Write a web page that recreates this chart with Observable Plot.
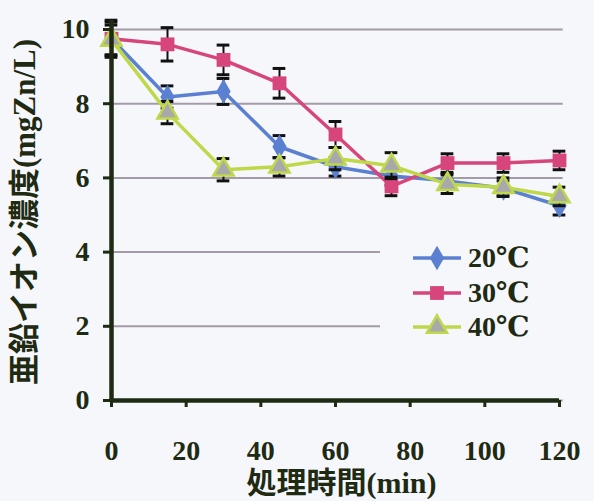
<!DOCTYPE html>
<html>
<head>
<meta charset="utf-8">
<script src="https://cdn.jsdelivr.net/npm/d3@7"></script>
<script src="https://cdn.jsdelivr.net/npm/@observablehq/plot@0.6"></script>
<style>
  html, body { margin: 0; padding: 0; background: #f5f7fb; }
  #wrap { position: relative; width: 594px; height: 501px; }
  #legend { position: absolute; left: 380px; top: 238px; width: 183px; height: 106px; background: #f5f7fb; }
  .item { position: absolute; left: 0; height: 34px; width: 183px; }
  .item svg { position: absolute; left: 31px; top: 0; }
  .item span { position: absolute; left: 88px; top: 0; line-height: 34px; font: bold 28px "Liberation Serif", "DejaVu Serif", serif; color: #1f2a12; }
</style>
</head>
<body>
<div id="wrap"></div>
<script>
const times = [0, 15, 30, 45, 60, 75, 90, 105, 120];
const seriesNames = ["20℃", "30℃", "40℃"];
const v20 = [9.75, 8.18, 8.33, 6.84, 6.3, 6.05, 5.92, 5.72, 5.25];
const v30 = [9.75, 9.6, 9.18, 8.55, 7.17, 5.77, 6.4, 6.4, 6.47];
const v40 = [9.72, 7.76, 6.22, 6.3, 6.52, 6.33, 5.83, 5.75, 5.5];
const e20 = [0.45, 0.3, 0.35, 0.3, 0.25, 0.25, 0.2, 0.2, 0.25];
const e30 = [0.5, 0.45, 0.4, 0.4, 0.35, 0.25, 0.25, 0.25, 0.25];
const e40 = [0.4, 0.3, 0.3, 0.25, 0.3, 0.35, 0.25, 0.25, 0.25];
const yTicks = [0, 2, 4, 6, 8, 10];
const xTicks = [0, 20, 40, 60, 80, 100, 120];
const yLabel = "亜鉛イオン濃度(mgZn/L)";
const xLabel = "処理時間(min)";

const styles = [
  {color: "#5b80d2", symbol: "diamond", fill: "#5b80d2", stroke: "#5b80d2", r: 7.5},
  {color: "#d6467c", symbol: "square", fill: "#d6467c", stroke: "#d6467c", r: 7.8},
  {color: "#bfd84a", symbol: "triangle", fill: "#a9a9ad", stroke: "#bfd84a", r: 7.5}
];
const values = [v20, v30, v40];
const errors = [e20, e30, e40];
const series = seriesNames.map((name, i) => times.map((t, j) => ({t, v: values[i][j], e: errors[i][j], name})));

const serif = `"Liberation Serif", "DejaVu Serif", serif`;
const jp = `"Liberation Serif", "Noto Sans CJK JP", serif`;
const axisColor = "#1f2a12";

const marks = [
  Plot.gridY(yTicks, {stroke: "#a39ba8", strokeOpacity: 1, strokeWidth: 2, x1: 0, x2: 121}),
];
series.forEach((d, i) => {
  const s = styles[i];
  marks.push(
    Plot.ruleX(d, {x: "t", y1: p => p.v - p.e, y2: p => p.v + p.e, stroke: "#111", strokeWidth: 2}),
    Plot.ruleY(d, {y: p => p.v - p.e, x1: p => p.t - 1.7, x2: p => p.t + 1.7, stroke: "#111", strokeWidth: 3}),
    Plot.ruleY(d, {y: p => p.v + p.e, x1: p => p.t - 1.7, x2: p => p.t + 1.7, stroke: "#111", strokeWidth: 3}),
    Plot.line(d, {x: "t", y: "v", stroke: s.color, strokeWidth: 3.5}),
    Plot.dot(d, {x: "t", y: "v", symbol: () => s.symbol, fill: s.fill, stroke: s.stroke, strokeWidth: s.symbol === "triangle" ? 2.5 : 0, r: s.r})
  );
});
marks.push(
  Plot.ruleX([0], {y1: 0, y2: 10.25, stroke: axisColor, strokeWidth: 4.5}),
  Plot.ruleY([0], {x1: -0.3, x2: 120, stroke: axisColor, strokeWidth: 4.5}),
  Plot.axisY(yTicks, {tickSize: 8, tickPadding: 14, stroke: axisColor, strokeWidth: 3, fontSize: 28, fontWeight: "bold", fontFamily: serif, fill: axisColor, label: null}),
  Plot.axisX(xTicks, {tickSize: 7, tickPadding: 33, stroke: axisColor, strokeWidth: 3, fontSize: 28, fontWeight: "bold", fontFamily: serif, fill: axisColor, label: null}),
  Plot.text([yLabel], {frameAnchor: "left", textAnchor: "middle", lineAnchor: "middle", rotate: -90, dx: -86, dy: -3, fontSize: 31, fontWeight: "bold", fontFamily: jp, fill: axisColor}),
  Plot.text([xLabel], {frameAnchor: "bottom", textAnchor: "middle", lineAnchor: "middle", dx: 6, dy: 83, fontSize: 30, fontWeight: "bold", fontFamily: jp, fill: axisColor})
);

const chart = Plot.plot({
  width: 594,
  height: 501,
  marginLeft: 111,
  marginRight: 35,
  marginTop: 29,
  marginBottom: 101,
  style: {background: "#f5f7fb", overflow: "visible", fontFamily: serif},
  x: {domain: [0, 120]},
  y: {domain: [0, 10]},
  marks
});

const wrap = document.getElementById("wrap");
wrap.appendChild(chart);

// Legend
const legend = document.createElement("div");
legend.id = "legend";
seriesNames.forEach((name, i) => {
  const s = styles[i];
  const item = document.createElement("div");
  item.className = "item";
  item.style.top = (3 + i * 34.5) + "px";
  const svg = d3.create("svg").attr("width", 52).attr("height", 34);
  svg.append("line").attr("x1", 2).attr("x2", 50).attr("y1", 17).attr("y2", 17).attr("stroke", s.color).attr("stroke-width", 3.5);
  const sym = {diamond: d3.symbolDiamond, square: d3.symbolSquare, triangle: d3.symbolTriangle}[s.symbol];
  svg.append("path").attr("transform", "translate(26,17)")
    .attr("d", d3.symbol(sym, Math.PI * s.r * s.r)())
    .attr("fill", s.fill).attr("stroke", s.stroke).attr("stroke-width", s.symbol === "triangle" ? 2.5 : 0);
  item.appendChild(svg.node());
  const label = document.createElement("span");
  label.textContent = name;
  item.appendChild(label);
  legend.appendChild(item);
});
wrap.appendChild(legend);
</script>
</body>
</html>
